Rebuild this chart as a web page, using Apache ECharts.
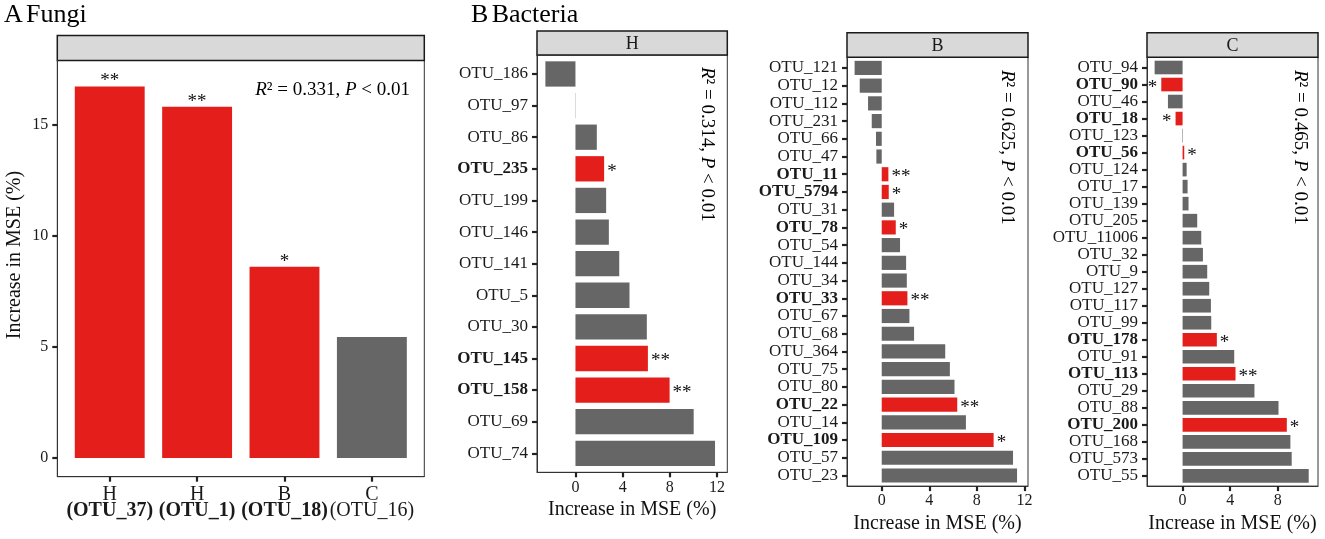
<!DOCTYPE html>
<html>
<head>
<meta charset="utf-8">
<script src="https://cdn.jsdelivr.net/npm/echarts@6/dist/echarts.min.js"></script>
<style>
  html, body { margin: 0; padding: 0; background: #fff; }
  #chart { width: 1325px; height: 539px; }
</style>
</head>
<body>
<div id="chart"></div>
<script>
// panel A, fungi
const fungiGroups = ["H", "H", "B", "C"];
const fungiOtus = ["OTU_37", "OTU_1", "OTU_18", "OTU_16"];
const fungiValues = [16.71, 15.8, 8.6, 5.44];
const fungiSig = ["**", "**", "*", ""];

// panel B, bacteria - H
const hOtus = ["OTU_186", "OTU_97", "OTU_86", "OTU_235", "OTU_199", "OTU_146", "OTU_141",
  "OTU_5", "OTU_30", "OTU_145", "OTU_158", "OTU_69", "OTU_74"];
const hValues = [-2.55, 0.02, 1.81, 2.43, 2.6, 2.83, 3.71, 4.58, 6.05, 6.14, 7.98, 10.02, 11.83];
const hSig = ["", "", "", "*", "", "", "", "", "", "**", "**", "", ""];

// panel B, bacteria - B
const bOtus = ["OTU_121", "OTU_12", "OTU_112", "OTU_231", "OTU_66", "OTU_47", "OTU_11", "OTU_5794",
  "OTU_31", "OTU_78", "OTU_54", "OTU_144", "OTU_34", "OTU_33", "OTU_67", "OTU_68", "OTU_364",
  "OTU_75", "OTU_80", "OTU_22", "OTU_14", "OTU_109", "OTU_57", "OTU_23"];
const bValues = [-2.28, -1.85, -1.15, -0.84, -0.48, -0.45, 0.56, 0.59, 1.04, 1.18, 1.54, 2.05,
  2.11, 2.16, 2.33, 2.72, 5.34, 5.73, 6.12, 6.35, 7.08, 9.41, 11.04, 11.38];
const bSig = ["", "", "", "", "", "", "**", "*", "", "*", "", "", "", "**", "", "", "", "", "",
  "**", "", "*", "", ""];

// panel B, bacteria - C
const cOtus = ["OTU_94", "OTU_90", "OTU_46", "OTU_18", "OTU_123", "OTU_56", "OTU_124", "OTU_17",
  "OTU_139", "OTU_205", "OTU_11006", "OTU_32", "OTU_9", "OTU_127", "OTU_117", "OTU_99", "OTU_178",
  "OTU_91", "OTU_113", "OTU_29", "OTU_88", "OTU_200", "OTU_168", "OTU_573", "OTU_55"];
const cValues = [-2.35, -1.79, -1.23, -0.59, -0.04, 0.14, 0.34, 0.42, 0.5, 1.23, 1.57, 1.71, 2.07,
  2.24, 2.38, 2.41, 2.88, 4.34, 4.45, 6.04, 8.06, 8.76, 9.06, 9.17, 10.6];
const cSig = ["", "*", "", "*", "", "*", "", "", "", "", "", "", "", "", "", "", "*", "", "**",
  "", "", "*", "", "", ""];

const xTicksA = [0, 1, 2, 3];
const yTicksA = [0, 5, 10, 15];
const xTicksB = [0, 4, 8, 12];
const xTicksC = [0, 4, 8];

const RED = "#E41F1B";
const GREY = "#666666";
const FONT = '"Liberation Serif", "Times New Roman", serif';

const chart = echarts.init(document.getElementById("chart"));

const tick = { show: true, inside: false, length: 5, lineStyle: { color: "#222", width: 2.2 } };
const edge = { show: true, onZero: false, lineStyle: { color: "#333", width: 1 } };
const gridBox = { show: true, borderColor: "#333", borderWidth: 1, backgroundColor: "transparent" };

function idxOf(v) { return Math.round(v); }

function otuLabel(names, sig) {
  return v => {
    const i = idxOf(v);
    return (sig[i] ? "{b|" : "{n|") + names[i] + "}";
  };
}

const otuRich = {
  n: { fontFamily: FONT, fontSize: 17, color: "#1a1a1a" },
  b: { fontFamily: FONT, fontSize: 17, fontWeight: "bold", color: "#1a1a1a" }
};

function vbar(sig) {
  return (params, api) => {
    const i = api.value(0), v = api.value(1);
    const base = api.coord([i, 0]);
    const top = api.coord([i, v]);
    const w = api.size([0.8, 0])[0];
    const s = sig[params.dataIndex];
    const kids = [{
      type: "rect",
      shape: { x: base[0] - w / 2, y: Math.min(base[1], top[1]), width: w, height: Math.abs(base[1] - top[1]) },
      style: { fill: s ? RED : GREY }
    }];
    if (s) {
      kids.push({
        type: "text", x: top[0], y: top[1] - 5,
        style: { text: s, fill: "#111", fontFamily: FONT, fontSize: 19, align: "center", verticalAlign: "middle" }
      });
    }
    return { type: "group", children: kids };
  };
}

function hbar(sig) {
  return (params, api) => {
    const v = api.value(0), i = api.value(1);
    const base = api.coord([0, i]);
    const end = api.coord([v, i]);
    const h = api.size([0, 0.8])[1];
    const s = sig[params.dataIndex];
    const kids = [{
      type: "rect",
      shape: { x: Math.min(base[0], end[0]), y: base[1] - h / 2, width: Math.abs(end[0] - base[0]), height: h },
      style: { fill: s ? RED : GREY }
    }];
    if (s) {
      const neg = v < 0;
      kids.push({
        type: "text", x: end[0] + (neg ? -4 : 3), y: end[1] + 3,
        style: { text: s, fill: "#111", fontFamily: FONT, fontSize: 19, align: neg ? "right" : "left", verticalAlign: "middle" }
      });
    }
    return { type: "group", children: kids };
  };
}

function otuYAxis(gridIndex, names, sig) {
  const n = names.length;
  const ticks = names.map((_, i) => i);
  return {
    type: "value", gridIndex, inverse: true, min: -0.6, max: n - 1 + 0.6,
    axisLine: edge, splitLine: { show: false },
    axisTick: Object.assign({ customValues: ticks }, tick),
    axisLabel: { customValues: ticks, margin: 9, formatter: otuLabel(names, sig), rich: otuRich }
  };
}

function mseXAxis(gridIndex, min, max, ticks, gap) {
  return {
    type: "value", gridIndex, min, max,
    axisLine: edge, splitLine: { show: false },
    axisTick: Object.assign({ customValues: ticks }, tick),
    axisLabel: { customValues: ticks, margin: 7, fontFamily: FONT, fontSize: 16, color: "#1a1a1a" },
    name: "Increase in MSE (%)", nameLocation: "middle", nameGap: gap,
    nameTextStyle: { fontFamily: FONT, fontSize: 20, color: "#111" }
  };
}

function strip(x, y, w, h, label) {
  return [
    { type: "rect", shape: { x, y, width: w, height: h }, style: { fill: "#D9D9D9", stroke: "#1a1a1a", lineWidth: 1.5 } },
    { type: "text", x: x + w / 2, y: y + h / 2 + 1, style: { text: label, fontFamily: FONT, fontSize: 18, fill: "#1a1a1a", align: "center", verticalAlign: "middle" } }
  ];
}

const statRich = {
  i: { fontFamily: FONT, fontSize: 19, fontStyle: "italic", color: "#111" },
  n: { fontFamily: FONT, fontSize: 19, color: "#111" }
};

function stat(x, y, r2, rotated) {
  return {
    type: "text", x, y, rotation: rotated ? -Math.PI / 2 : 0,
    style: {
      text: "{i|R}{n|\u00b2 = " + r2 + ", }{i|P}{n| < 0.01}",
      rich: statRich, align: rotated ? "left" : "right", verticalAlign: "middle"
    }
  };
}

const option = {
  animation: false,
  grid: [
    Object.assign({ left: 57.3, top: 60.5, width: 367, height: 416.2 }, gridBox),
    Object.assign({ left: 537, top: 55, width: 190.3, height: 417.3 }, gridBox),
    Object.assign({ left: 847, top: 57.3, width: 181, height: 430.4 }, gridBox),
    Object.assign({ left: 1147, top: 57.3, width: 171, height: 430.4 }, gridBox)
  ],
  xAxis: [
    {
      type: "value", gridIndex: 0, min: -0.6, max: 3.6,
      axisLine: edge, splitLine: { show: false },
      axisTick: Object.assign({ customValues: xTicksA }, tick),
      axisLabel: {
        customValues: xTicksA, margin: 10, lineHeight: 16,
        formatter: v => {
          const i = idxOf(v);
          return "{n|" + fungiGroups[i] + "}\n" + (fungiSig[i] ? "{b|(" : "{n|(") + fungiOtus[i] + ")}";
        },
        rich: {
          n: { fontFamily: FONT, fontSize: 20, color: "#1a1a1a", lineHeight: 16 },
          b: { fontFamily: FONT, fontSize: 20, fontWeight: "bold", color: "#1a1a1a", lineHeight: 16 }
        }
      }
    },
    mseXAxis(1, -3.26, 12.87, xTicksB, 26),
    mseXAxis(2, -2.92, 12.3, xTicksB, 27),
    mseXAxis(3, -2.99, 11.38, xTicksC, 27)
  ],
  yAxis: [
    {
      type: "value", gridIndex: 0, min: -0.84, max: 17.88,
      axisLine: edge, splitLine: { show: false },
      axisTick: Object.assign({ customValues: yTicksA }, tick),
      axisLabel: { customValues: yTicksA, margin: 9, fontFamily: FONT, fontSize: 16, color: "#1a1a1a" }
    },
    otuYAxis(1, hOtus, hSig),
    otuYAxis(2, bOtus, bSig),
    otuYAxis(3, cOtus, cSig)
  ],
  series: [
    { type: "custom", xAxisIndex: 0, yAxisIndex: 0, renderItem: vbar(fungiSig),
      encode: { x: 0, y: 1 }, data: fungiValues.map((v, i) => [i, v]) },
    { type: "custom", xAxisIndex: 1, yAxisIndex: 1, renderItem: hbar(hSig),
      encode: { x: 0, y: 1 }, data: hValues.map((v, i) => [v, i]) },
    { type: "custom", xAxisIndex: 2, yAxisIndex: 2, renderItem: hbar(bSig),
      encode: { x: 0, y: 1 }, data: bValues.map((v, i) => [v, i]) },
    { type: "custom", xAxisIndex: 3, yAxisIndex: 3, renderItem: hbar(cSig),
      encode: { x: 0, y: 1 }, data: cValues.map((v, i) => [v, i]) }
  ],
  graphic: [
    { type: "text", x: 4, y: 15, style: {
      text: "{k|A} {r|Fungi}", verticalAlign: "middle",
      rich: { k: { fontFamily: FONT, fontSize: 26, color: "#111" }, r: { fontFamily: FONT, fontSize: 26, color: "#E8141B" } }
    } },
    { type: "text", x: 471, y: 15, style: {
      text: "{k|B} {r|Bacteria}", verticalAlign: "middle",
      rich: { k: { fontFamily: FONT, fontSize: 26, color: "#111" }, r: { fontFamily: FONT, fontSize: 26, color: "#E8141B" } }
    } },
    ...strip(57.3, 35.5, 367, 25, ""),
    ...strip(537, 31, 190.3, 24, "H"),
    ...strip(847, 32.7, 181, 24.6, "B"),
    ...strip(1147, 32.7, 171, 24.6, "C"),
    { type: "text", x: 15, y: 255, rotation: Math.PI / 2, style: {
      text: "Increase in MSE (%)", fontFamily: FONT, fontSize: 20, fill: "#111", align: "center", verticalAlign: "middle"
    } },
    stat(410, 90, "0.331", false),
    stat(707, 67, "0.314", true),
    stat(1007, 70, "0.625", true),
    stat(1300, 70, "0.465", true)
  ]
};

chart.setOption(option);
</script>
</body>
</html>
